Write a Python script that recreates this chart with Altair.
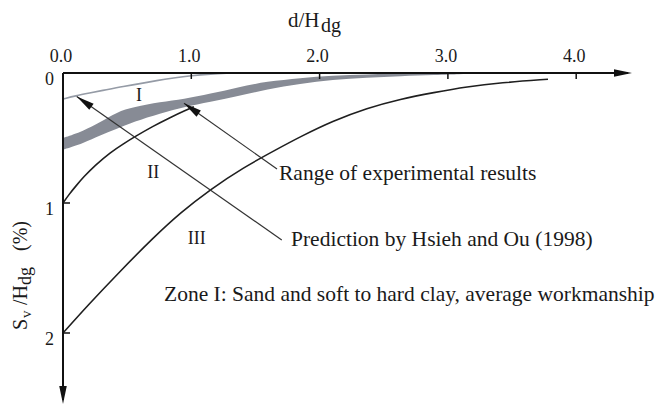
import math
import altair as alt
import pandas as pd

# ---------------- data ----------------
x_label_values = [0.0, 1.0, 2.0, 3.0, 4.0]
x_tick_labels = ["0.0", "1.0", "2.0", "3.0", "4.0"]
x_tick_values = [1.0, 2.0, 3.0, 4.0]
y_label_values = [0, 1, 2]
y_tick_labels = ["0", "1", "2"]
y_tick_values = [1, 2]

# range of experimental results (grey band)
band_x = [0.0, 0.16, 0.29, 0.42, 0.55, 0.76, 0.94, 1.15, 1.36, 1.59, 1.85, 2.10, 2.37, 2.63, 2.90, 3.12]
band_top = [0.50, 0.445, 0.38, 0.30, 0.262, 0.223, 0.20, 0.16, 0.11, 0.065, 0.038, 0.02, 0.01, 0.004, 0.002, 0.0]
band_bottom = [0.59, 0.54, 0.48, 0.43, 0.375, 0.31, 0.262, 0.222, 0.18, 0.125, 0.082, 0.052, 0.035, 0.024, 0.016, 0.008]

# prediction by Hsieh and Ou (1998)
pred_x = [0.0, 0.1, 0.2, 0.34, 0.47, 0.6, 0.73, 0.86, 1.0, 1.15, 1.3]
pred_y = [0.2, 0.175, 0.155, 0.128, 0.103, 0.082, 0.058, 0.038, 0.02, 0.008, 0.0]

# boundary zone I / II
b2_x = [0.0, 0.05, 0.1, 0.16, 0.25, 0.37, 0.47, 0.56, 0.7, 0.83, 0.96, 1.02]
b2_y = [1.0, 0.93, 0.87, 0.80, 0.71, 0.61, 0.545, 0.49, 0.41, 0.345, 0.285, 0.26]

# boundary zone II / III
b3_x = [0.0, 0.2, 0.44, 0.7, 0.92, 1.15, 1.4, 1.67, 1.85, 2.1, 2.37, 2.63, 2.89, 3.15, 3.41, 3.78]
b3_y = [2.0, 1.78, 1.53, 1.27, 1.07, 0.895, 0.73, 0.585, 0.49, 0.37, 0.27, 0.20, 0.15, 0.105, 0.075, 0.048]

zone_labels = ["I", "II", "III"]
zone_label_x = [0.592, 0.704, 1.042]
zone_label_y = [0.177, 0.772, 1.279]

# annotation arrows: (tip, tail) in data units
ann_names = ["pred", "range"]
ann_tip_x = [0.107, 0.943]
ann_tip_y = [0.18, 0.233]
ann_tail_x = [1.705, 1.668]
ann_tail_y = [1.285, 0.738]

# ---------------- layout ----------------
FONT = "Liberation Serif"
PX_X = 128.3
PX_Y = 130.0
LEFT, TOP = 55, 65
W, H = 592, 331
OX, OY = 8 + LEFT, 8 + TOP


def dx(px):
    return (px - OX) / PX_X


def dy(py):
    return (py - OY) / PX_Y


xs = alt.Scale(domain=[0, W / PX_X], nice=False, zero=False)
ys = alt.Scale(domain=[0, H / PX_Y], nice=False, zero=False, reverse=True)
X = lambda f: alt.X(f, type="quantitative", scale=xs, axis=None)
Y = lambda f: alt.Y(f, type="quantitative", scale=ys, axis=None)

ARROW = "M-1,-0.42L1,0L-1,0.42Z"
HEAD = 18.0  # arrowhead length px

layers = []

# band
band_df = pd.DataFrame({"x": band_x, "top": band_top, "bot": band_bottom})
layers.append(alt.Chart(band_df).mark_area(color="#878b95", opacity=1, interpolate="basis").encode(
    x=X("x"), y=Y("top"), y2="bot"))

# prediction curve
pred_df = pd.DataFrame({"x": pred_x, "y": pred_y})
layers.append(alt.Chart(pred_df).mark_line(color="#959ba6", strokeWidth=1.6, interpolate="basis").encode(
    x=X("x"), y=Y("y")))

# boundaries
for bx, by in ((b2_x, b2_y), (b3_x, b3_y)):
    df = pd.DataFrame({"x": bx, "y": by})
    layers.append(alt.Chart(df).mark_line(color="#1f1f1f", strokeWidth=1.6, interpolate="basis").encode(
        x=X("x"), y=Y("y")))

# axes lines
x_end_tip = dx(632)
y_end_tip = H / PX_Y
axis_df = pd.DataFrame({"x": [0.0], "x2": [x_end_tip - 4 / PX_X], "y": [0.0]})
layers.append(alt.Chart(axis_df).mark_rule(color="#111", strokeWidth=2).encode(
    x=X("x"), x2="x2", y=Y("y")))
yaxis_df = pd.DataFrame({"x": [0.0], "y": [0.0], "y2": [y_end_tip - 4 / PX_Y]})
layers.append(alt.Chart(yaxis_df).mark_rule(color="#111", strokeWidth=2).encode(
    x=X("x"), y=Y("y"), y2="y2"))

# ticks
xt_df = pd.DataFrame({"x": x_tick_values, "y": 0.0, "y2": 6 / PX_Y})
layers.append(alt.Chart(xt_df).mark_rule(color="#111", strokeWidth=1.5).encode(
    x=X("x"), y=Y("y"), y2="y2"))
yt_df = pd.DataFrame({"y": y_tick_values, "x": 0.0, "x2": 7 / PX_X})
layers.append(alt.Chart(yt_df).mark_rule(color="#111", strokeWidth=1.5).encode(
    x=X("x"), x2="x2", y=Y("y")))

# arrow heads (axes + annotations)
heads = []
heads.append({"x": x_end_tip - (HEAD / 2) / PX_X, "y": 0.0, "angle": 0.0})
heads.append({"x": 0.0, "y": y_end_tip - (HEAD / 2) / PX_Y, "angle": 90.0})
ann_rows = []
for n, tx, ty, sx, sy in zip(ann_names, ann_tip_x, ann_tip_y, ann_tail_x, ann_tail_y):
    vx = (tx - sx) * PX_X
    vy = (ty - sy) * PX_Y
    L = math.hypot(vx, vy)
    ang = math.degrees(math.atan2(vy, vx)) % 360
    heads.append({"x": tx - (HEAD / 2) * vx / L / PX_X, "y": ty - (HEAD / 2) * vy / L / PX_Y, "angle": ang})
    ann_rows.append({"name": n, "x": tx, "y": ty, "o": 0})
    ann_rows.append({"name": n, "x": sx, "y": sy, "o": 1})

ann_df = pd.DataFrame(ann_rows)
layers.append(alt.Chart(ann_df).mark_line(color="#333", strokeWidth=1.2).encode(
    x=X("x"), y=Y("y"), detail="name:N", order="o:Q"))

heads_df = pd.DataFrame(heads)
layers.append(alt.Chart(heads_df).mark_point(shape=ARROW, filled=True, opacity=1, size=HEAD * HEAD,
                                             color="#111", strokeWidth=0).encode(
    x=X("x"), y=Y("y"), angle=alt.Angle("angle:Q", scale=None)))

# tick labels
xl_df = pd.DataFrame({"x": x_label_values, "t": x_tick_labels, "y": dy(61.5)})
layers.append(alt.Chart(xl_df).mark_text(font=FONT, fontSize=18, align="center", baseline="alphabetic",
                                         dx=-2, color="#1a1a1a").encode(
    x=X("x"), y=Y("y"), text="t:N"))
yl_df = pd.DataFrame({"y": y_label_values, "t": y_tick_labels, "x": dx(54)})
layers.append(alt.Chart(yl_df).mark_text(font=FONT, fontSize=18, align="right", baseline="middle",
                                         dy=7, color="#1a1a1a").encode(
    x=X("x"), y=Y("y"), text="t:N"))

# zone roman numerals
zl_df = pd.DataFrame({"x": zone_label_x, "y": zone_label_y, "t": zone_labels})
layers.append(alt.Chart(zl_df).mark_text(font=FONT, fontSize=18, align="center", baseline="middle",
                                         color="#1a1a1a").encode(
    x=X("x"), y=Y("y"), text="t:N"))

# free texts: (text, x px, y px, size, align, baseline, angle)
texts = [
    ("Range of experimental results", 279, 173.5, 21.5, "left", "middle", 0),
    ("Prediction by Hsieh and Ou (1998)", 291, 240, 21.5, "left", "middle", 0),
    ("Zone I: Sand and soft to hard clay, average workmanship", 164, 295, 21.5, "left", "middle", 0),
    ("d/H", 288, 26.5, 21, "left", "alphabetic", 0),
    ("dg", 321, 32, 20, "left", "alphabetic", 0),
    ("S", 27, 330, 20, "left", "alphabetic", 270),
    ("v", 31, 318, 15, "left", "alphabetic", 270),
    ("/H", 27, 305, 20, "left", "alphabetic", 270),
    ("dg", 31, 285, 18, "left", "alphabetic", 270),
    ("(%)", 27, 251, 20, "left", "alphabetic", 270),
]
for t, px, py, fs, al, bl, ang in texts:
    df = pd.DataFrame({"x": [dx(px)], "y": [dy(py)], "t": [t]})
    kw = dict(font=FONT, fontSize=fs, align=al, baseline=bl, color="#1a1a1a")
    if ang:
        kw["angle"] = ang
    layers.append(alt.Chart(df).mark_text(**kw).encode(x=X("x"), y=Y("y"), text="t:N"))

chart = alt.layer(*layers).properties(
    width=W, height=H,
    padding={"left": LEFT, "top": TOP, "right": 655 - LEFT - W, "bottom": 396 - TOP - H},
    autosize=alt.AutoSizeParams(type="none"),
    background="white",
).configure_view(stroke=None)

chart.save("out.html", embed_options={"renderer": "svg", "actions": False})
